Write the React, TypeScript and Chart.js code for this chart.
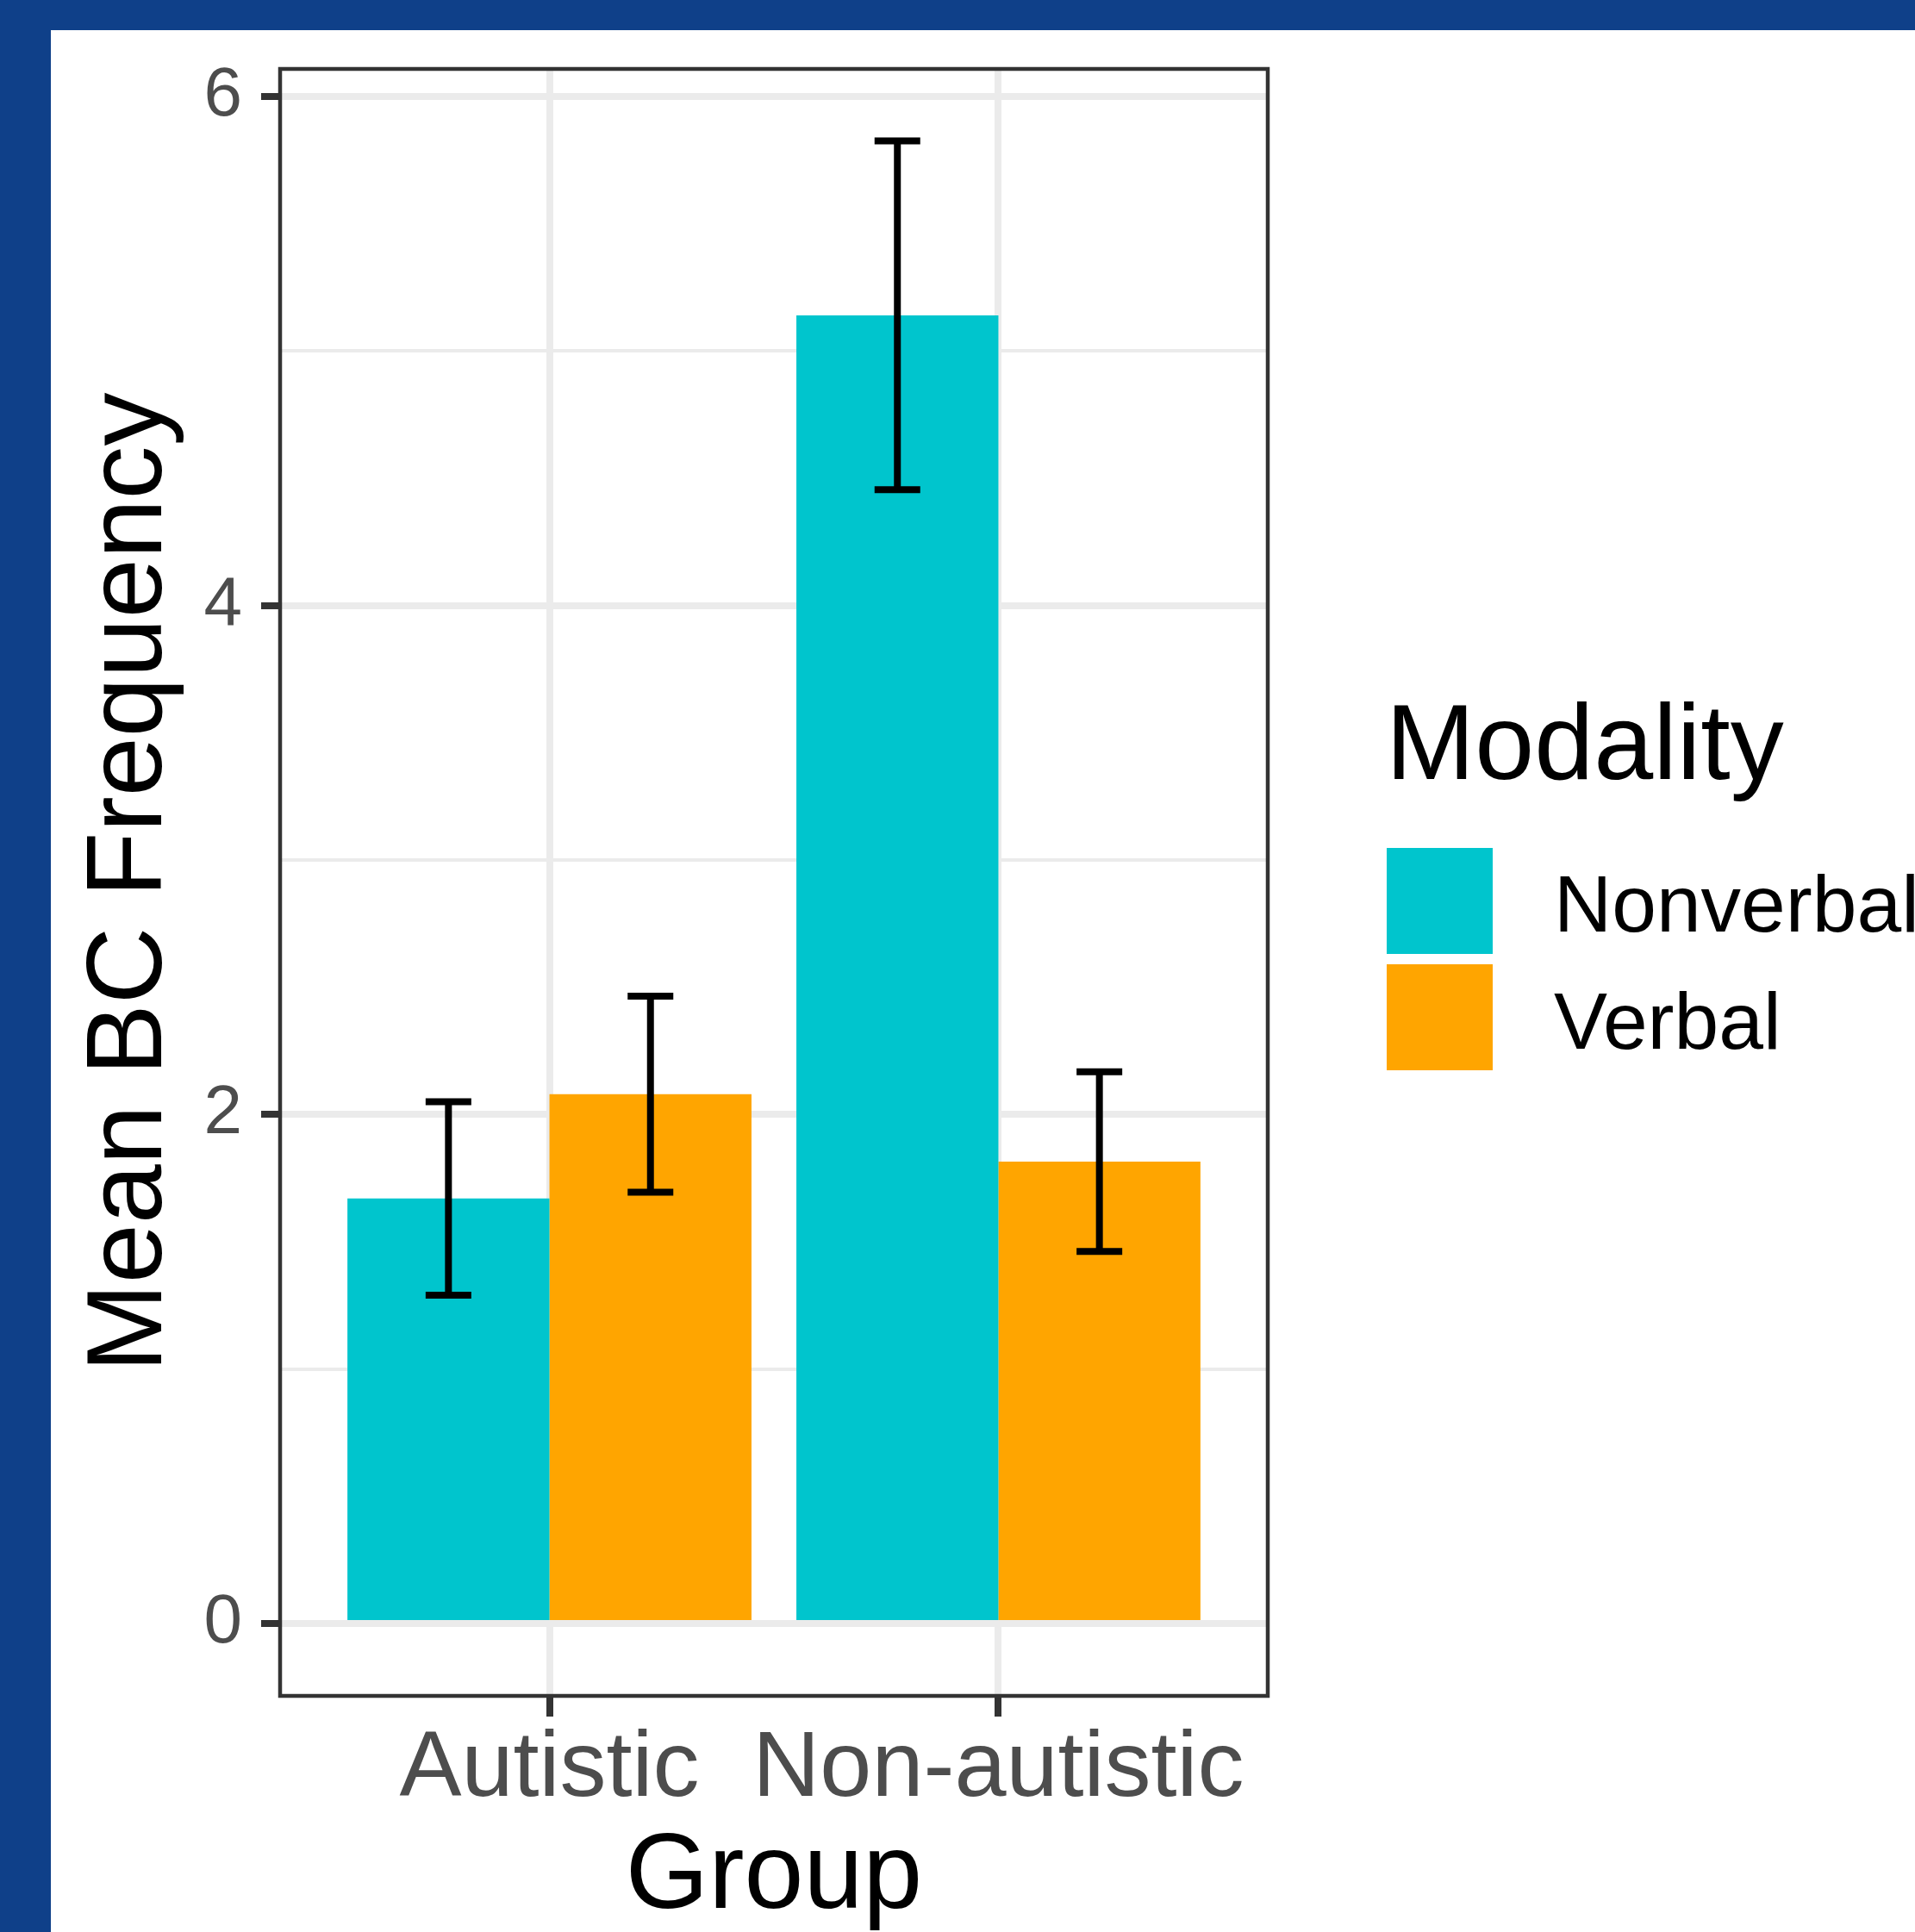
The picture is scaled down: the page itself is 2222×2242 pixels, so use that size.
import React, { useEffect, useRef } from "react";
import { Chart, registerables } from "chart.js";

Chart.register(...registerables);

const groups = ["Autistic", "Non-autistic"];
const modalities = ["Nonverbal", "Verbal"];
const nonverbalMeans = [1.67, 5.14];
const nonverbalErrors = [0.38, 0.685];
const verbalMeans = [2.08, 1.815];
const verbalErrors = [0.385, 0.353];
const colors = ["#00C5CD", "#FFA500"];
const yTickValues = [0, 1, 2, 3, 4, 5, 6];
const xTickValues = [1, 2];

const W = 2222;
const H = 2242;
const FONT = "'Liberation Sans', Arial, Helvetica, sans-serif";

export default function App() {
  const ref = useRef<HTMLCanvasElement | null>(null);

  useEffect(() => {
    const canvas = ref.current;
    if (!canvas) return;
    const errors = [nonverbalErrors, verbalErrors];

    const framePlugin = {
      id: "frame",
      beforeDraw(chart: any) {
        const ctx = chart.ctx;
        ctx.save();
        ctx.fillStyle = "#ffffff";
        ctx.fillRect(0, 0, W, H);
        ctx.fillStyle = "#0F4089";
        ctx.fillRect(0, 0, 59, H);
        ctx.fillRect(0, 0, W, 35);
        ctx.restore();
      },
      afterDatasetsDraw(chart: any) {
        const ctx = chart.ctx;
        const ys = chart.scales.y;
        ctx.save();
        ctx.strokeStyle = "#000000";
        ctx.lineWidth = 8;
        ctx.lineCap = "butt";
        chart.data.datasets.forEach((ds: any, i: number) => {
          const meta = chart.getDatasetMeta(i);
          meta.data.forEach((bar: any, j: number) => {
            const m = ds.data[j].y;
            const e = errors[i][j];
            const x = bar.x;
            const yt = ys.getPixelForValue(m + e);
            const yb = ys.getPixelForValue(m - e);
            const hw = 26.5;
            ctx.beginPath();
            ctx.moveTo(x, yt);
            ctx.lineTo(x, yb);
            ctx.moveTo(x - hw, yt);
            ctx.lineTo(x + hw, yt);
            ctx.moveTo(x - hw, yb);
            ctx.lineTo(x + hw, yb);
            ctx.stroke();
          });
        });
        ctx.restore();
      },
      afterDraw(chart: any) {
        const ctx = chart.ctx;
        const a = chart.chartArea;
        ctx.save();
        ctx.strokeStyle = "#333333";
        ctx.lineWidth = 4.5;
        ctx.strokeRect(a.left, a.top, a.right - a.left, a.bottom - a.top);
        // legend
        ctx.fillStyle = "#000000";
        ctx.textAlign = "left";
        ctx.textBaseline = "alphabetic";
        ctx.font = `124px ${FONT}`;
        ctx.fillText("Modality", 1608, 904);
        const keyX = 1609;
        const keyY = [984, 1119];
        const labelY = [1081, 1217];
        modalities.forEach((m, i) => {
          ctx.fillStyle = colors[i];
          ctx.fillRect(keyX, keyY[i], 123, 123);
          ctx.fillStyle = "#000000";
          ctx.font = `93px ${FONT}`;
          ctx.fillText(m, 1803, labelY[i]);
        });
        ctx.restore();
      },
    };

    const chart = new Chart(canvas, {
      type: "bar",
      data: {
        datasets: [
          {
            label: modalities[0],
            data: nonverbalMeans.map((v, j) => ({ x: j + 1, y: v })),
            backgroundColor: colors[0],
            borderWidth: 0,
            categoryPercentage: 0.9,
            barPercentage: 1.0,
          },
          {
            label: modalities[1],
            data: verbalMeans.map((v, j) => ({ x: j + 1, y: v })),
            backgroundColor: colors[1],
            borderWidth: 0,
            categoryPercentage: 0.9,
            barPercentage: 1.0,
          },
        ],
      },
      options: {
        responsive: false,
        animation: false,
        devicePixelRatio: 1,
        layout: { padding: { left: 0, top: 80, right: W - 1471, bottom: 0 } },
        plugins: { legend: { display: false }, tooltip: { enabled: false } },
        scales: {
          x: {
            type: "linear",
            min: 0.4,
            max: 2.6,
            offset: false,
            afterBuildTicks: (s: any) => {
              s.ticks = xTickValues.map((v) => ({ value: v }));
            },
            afterFit: (s: any) => {
              s.height = H - 1968;
            },
            border: { display: false },
            grid: {
              offset: false,
              color: "#EBEBEB",
              lineWidth: 8,
              tickColor: "#333333",
              tickWidth: 8,
              tickLength: 24,
            },
            ticks: {
              autoSkip: false,
              maxRotation: 0,
              padding: -3,
              color: "#4D4D4D",
              font: { family: FONT, size: 108 },
              callback: (v: any) => groups[Number(v) - 1] ?? "",
            },
            title: {
              display: true,
              text: "Group",
              color: "#000000",
              font: { family: FONT, size: 124, lineHeight: 1 },
              padding: { top: 0, bottom: 0 },
            },
          },
          y: {
            type: "linear",
            min: -0.284,
            max: 6.108,
            afterBuildTicks: (s: any) => {
              s.ticks = yTickValues.map((v) => ({ value: v }));
            },
            afterFit: (s: any) => {
              s.width = 325;
            },
            border: { display: false },
            grid: {
              color: "#EBEBEB",
              lineWidth: (c: any) => (c.tick && c.tick.value % 2 === 0 ? 8 : 4),
              tickColor: (c: any) =>
                c.tick && c.tick.value % 2 === 0 ? "#333333" : "rgba(0,0,0,0)",
              tickWidth: 8,
              tickLength: 22,
            },
            ticks: {
              autoSkip: false,
              padding: 22,
              color: "#4D4D4D",
              font: { family: FONT, size: 80 },
              callback: (v: any) => (Number(v) % 2 === 0 ? String(v) : ""),
            },
            title: {
              display: true,
              text: "Mean BC Frequency",
              color: "#000000",
              font: { family: FONT, size: 124, lineHeight: 1 },
              padding: { top: 91, bottom: 0 },
            },
          },
        },
      },
      plugins: [framePlugin],
    } as any);

    return () => chart.destroy();
  }, []);

  return (
    <div style={{ position: "absolute", left: 0, top: 0, width: W, height: H }}>
      <canvas ref={ref} width={W} height={H} style={{ width: W, height: H, display: "block" }} />
    </div>
  );
}
